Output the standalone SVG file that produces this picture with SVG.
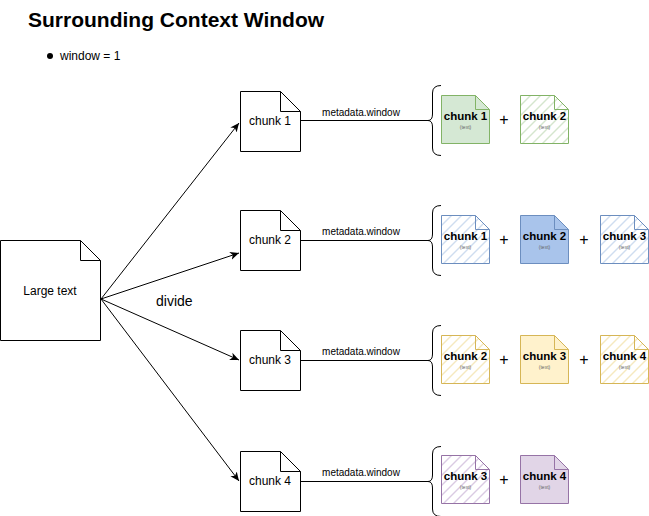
<svg xmlns="http://www.w3.org/2000/svg" width="649" height="516" viewBox="0 0 649 516">
<style>
text{font-family:"Liberation Sans",Arial,sans-serif;fill:#000}
.doc{stroke:#000;stroke-width:1;fill:#fff}
.lbl{font-size:12px;text-anchor:middle}
.meta{font-size:10px;text-anchor:middle}
.sl{font-size:11.5px;font-weight:bold;text-anchor:middle}
.st{font-size:5px;fill:#666;text-anchor:middle}
.plus{font-size:16px;text-anchor:middle}
.conn{stroke:#000;stroke-width:1;fill:none}
.brace{stroke:#000;stroke-width:1;fill:none}
.g{stroke:#82b366}.b{stroke:#6c8ebf}.y{stroke:#d6b656}.p{stroke:#9673a6}
</style>
<defs>
<marker id="arr" markerWidth="10" markerHeight="10" refX="9" refY="5" orient="auto" markerUnits="userSpaceOnUse">
<path d="M0,1 L9,5 L0,9 L2.5,5 Z" fill="#000"/>
</marker>
<pattern id="hg" width="10" height="10" patternUnits="userSpaceOnUse"><rect width="10" height="10" fill="#fff"/><path d="M-1,11 L11,-1 M-1,1 L1,-1 M9,11 L11,9" stroke="#a9cc9c" stroke-width="1"/></pattern>
<pattern id="hb" width="10" height="10" patternUnits="userSpaceOnUse"><rect width="10" height="10" fill="#fff"/><path d="M-1,11 L11,-1 M-1,1 L1,-1 M9,11 L11,9" stroke="#9fbbe0" stroke-width="1"/></pattern>
<pattern id="hy" width="10" height="10" patternUnits="userSpaceOnUse"><rect width="10" height="10" fill="#fff"/><path d="M-1,11 L11,-1 M-1,1 L1,-1 M9,11 L11,9" stroke="#ecd27e" stroke-width="1"/></pattern>
<pattern id="hp" width="10" height="10" patternUnits="userSpaceOnUse"><rect width="10" height="10" fill="#fff"/><path d="M-1,11 L11,-1 M-1,1 L1,-1 M9,11 L11,9" stroke="#b596c6" stroke-width="1"/></pattern>
<path id="sdoc" d="M0,0 H34 L48,14 V48 H0 Z"/>
<path id="sfold" d="M34,0 V14 H48"/>
</defs>

<text x="28" y="27" font-size="21" font-weight="bold">Surrounding Context Window</text>
<circle cx="50" cy="56" r="3" fill="#000"/>
<text x="60" y="60" font-size="12">window = 1</text>

<g id="large-text">
<path class="doc" d="M0.5,240.5 H80.5 L100.5,260.5 V340.5 H0.5 Z"/>
<path class="conn" d="M80.5,240.5 V260.5 H100.5"/>
<text class="lbl" x="50" y="295">Large text</text>
</g>

<g id="chunk1">
<path class="doc" d="M240.5,91.5 H280.5 L300.5,111.5 V151.5 H240.5 Z"/>
<path class="conn" d="M280.5,91.5 V111.5 H300.5"/>
<text class="lbl" x="270" y="125">chunk 1</text>
</g>
<g id="chunk2">
<path class="doc" d="M240.5,210.5 H280.5 L300.5,230.5 V270.5 H240.5 Z"/>
<path class="conn" d="M280.5,210.5 V230.5 H300.5"/>
<text class="lbl" x="270" y="244">chunk 2</text>
</g>
<g id="chunk3">
<path class="doc" d="M240.5,330.5 H280.5 L300.5,350.5 V390.5 H240.5 Z"/>
<path class="conn" d="M280.5,330.5 V350.5 H300.5"/>
<text class="lbl" x="270" y="364">chunk 3</text>
</g>
<g id="chunk4">
<path class="doc" d="M240.5,451.5 H280.5 L300.5,471.5 V511.5 H240.5 Z"/>
<path class="conn" d="M280.5,451.5 V471.5 H300.5"/>
<text class="lbl" x="270" y="485">chunk 4</text>
</g>

<g id="connectors">
<path class="conn" d="M101,299 L239,123" marker-end="url(#arr)"/>
<path class="conn" d="M101,299 L239,253" marker-end="url(#arr)"/>
<path class="conn" d="M101,299 L239,360" marker-end="url(#arr)"/>
<path class="conn" d="M101,299 L239,481" marker-end="url(#arr)"/>
<text x="156" y="306" font-size="14">divide</text>
<path class="conn" d="M300.5,120.5 H428"/>
<path class="conn" d="M300.5,240.5 H428"/>
<path class="conn" d="M300.5,360.5 H428"/>
<path class="conn" d="M300.5,481.5 H428"/>
<text class="meta" x="361" y="116">metadata.window</text>
<text class="meta" x="361" y="235">metadata.window</text>
<text class="meta" x="361" y="355">metadata.window</text>
<text class="meta" x="361" y="476">metadata.window</text>
<path class="brace" d="M441,85.5 Q432.5,85.5 432.5,93 V114 Q432.5,120.5 428,120.5 Q432.5,120.5 432.5,127 V148 Q432.5,155.5 441,155.5"/>
<path class="brace" d="M441,205.5 Q432.5,205.5 432.5,213 V234 Q432.5,240.5 428,240.5 Q432.5,240.5 432.5,247 V268 Q432.5,275.5 441,275.5"/>
<path class="brace" d="M441,325.5 Q432.5,325.5 432.5,333 V354 Q432.5,360.5 428,360.5 Q432.5,360.5 432.5,367 V388 Q432.5,395.5 441,395.5"/>
<path class="brace" d="M441,446.5 Q432.5,446.5 432.5,454 V475 Q432.5,481.5 428,481.5 Q432.5,481.5 432.5,488 V509 Q432.5,516.5 441,516.5"/>
</g>

<g id="row1">
<g id="r1-c1" transform="translate(441.5,95.5)"><use href="#sdoc" fill="#d5e8d4" class="g" stroke-width="1"/><use href="#sfold" fill="none" class="g"/><text class="sl" x="24" y="24">chunk 1</text><text class="st" x="24" y="33">(text)</text></g>
<text class="plus" x="504" y="125">+</text>
<g id="r1-c2" transform="translate(520.5,95.5)"><use href="#sdoc" fill="url(#hg)" class="g"/><use href="#sfold" fill="none" class="g"/><text class="sl" x="24" y="24">chunk 2</text><text class="st" x="24" y="33">(text)</text></g>
</g>

<g id="row2">
<g id="r2-c1" transform="translate(441.5,215.5)"><use href="#sdoc" fill="url(#hb)" class="b"/><use href="#sfold" fill="none" class="b"/><text class="sl" x="24" y="24">chunk 1</text><text class="st" x="24" y="33">(text)</text></g>
<text class="plus" x="504" y="245">+</text>
<g id="r2-c2" transform="translate(520.5,215.5)"><use href="#sdoc" fill="#a9c4eb" class="b"/><use href="#sfold" fill="none" class="b"/><text class="sl" x="24" y="24">chunk 2</text><text class="st" x="24" y="33">(text)</text></g>
<text class="plus" x="584" y="245">+</text>
<g id="r2-c3" transform="translate(600.5,215.5)"><use href="#sdoc" fill="url(#hb)" class="b"/><use href="#sfold" fill="none" class="b"/><text class="sl" x="24" y="24">chunk 3</text><text class="st" x="24" y="33">(text)</text></g>
</g>

<g id="row3">
<g id="r3-c1" transform="translate(441.5,335.5)"><use href="#sdoc" fill="url(#hy)" class="y"/><use href="#sfold" fill="none" class="y"/><text class="sl" x="24" y="24">chunk 2</text><text class="st" x="24" y="33">(text)</text></g>
<text class="plus" x="504" y="365">+</text>
<g id="r3-c2" transform="translate(520.5,335.5)"><use href="#sdoc" fill="#fff2cc" class="y"/><use href="#sfold" fill="none" class="y"/><text class="sl" x="24" y="24">chunk 3</text><text class="st" x="24" y="33">(text)</text></g>
<text class="plus" x="584" y="365">+</text>
<g id="r3-c3" transform="translate(600.5,335.5)"><use href="#sdoc" fill="url(#hy)" class="y"/><use href="#sfold" fill="none" class="y"/><text class="sl" x="24" y="24">chunk 4</text><text class="st" x="24" y="33">(text)</text></g>
</g>

<g id="row4">
<g id="r4-c1" transform="translate(441.5,455.5)"><use href="#sdoc" fill="url(#hp)" class="p"/><use href="#sfold" fill="none" class="p"/><text class="sl" x="24" y="24">chunk 3</text><text class="st" x="24" y="33">(text)</text></g>
<text class="plus" x="504" y="485">+</text>
<g id="r4-c2" transform="translate(520.5,455.5)"><use href="#sdoc" fill="#e1d5e7" class="p"/><use href="#sfold" fill="none" class="p"/><text class="sl" x="24" y="24">chunk 4</text><text class="st" x="24" y="33">(text)</text></g>
</g>
</svg>
